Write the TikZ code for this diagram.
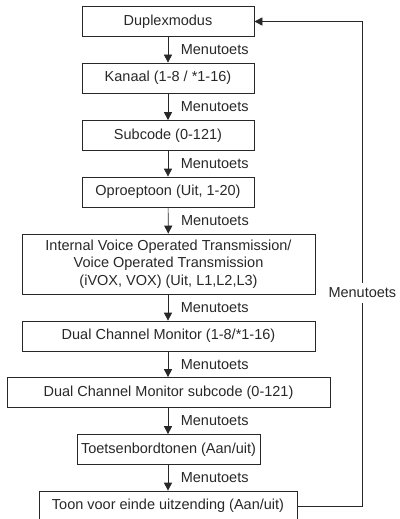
\documentclass[tikz,border=0pt]{standalone}
\usepackage{fontspec}
\setmainfont{Liberation Sans}
\definecolor{lijngrijs}{RGB}{40,40,40}
\usetikzlibrary{arrows.meta, positioning}

\begin{document}
\begin{tikzpicture}[x=1pt, y=-1pt,
					menu/.style={draw=lijngrijs, line width=0.7pt, font=\fontsize{14.5}{17.5}\selectfont, text=lijngrijs, align=center, inner sep=0pt, minimum height=30pt},
					lbl/.style={font=\fontsize{14.5}{17.5}\selectfont, text=lijngrijs, anchor=west, inner sep=0pt, xshift=12.5pt},
					arr/.style={-{Triangle[length=8pt, width=8pt]}, line width=0.7pt, lijngrijs}]
					\useasboundingbox (0,0) rectangle (399,519);
					\node[menu, minimum width=172pt] (dup) at (168,21.5) {Duplexmodus};
					\node[menu, minimum width=172pt] (kan) at (168,78) {Kanaal (1-8 / *1-16)};
					\node[menu, minimum width=172pt] (sub) at (168,135.5) {Subcode (0-121)};
					\node[menu, minimum width=172pt] (opr) at (168,192) {Oproeptoon (Uit, 1-20)};
					\node[menu, minimum width=293pt, minimum height=60pt] (vox) at (168.5,264) {Internal Voice Operated Transmission/\\Voice Operated Transmission\\(iVOX, VOX) (Uit, L1,L2,L3)};
					\node[menu, minimum width=293pt] (dcm) at (168.5,336) {Dual Channel Monitor (1-8/*1-16)};
					\node[menu, minimum width=323pt] (dcms) at (168.5,392.5) {Dual Channel Monitor subcode (0-121)};
					\node[menu, minimum width=183pt] (toets) at (168.5,449.5) {Toetsenbordtonen (Aan/uit)};
					\node[menu, minimum width=258pt] (toon) at (168,506) {Toon voor einde uitzending (Aan/uit)};
					\draw[arr] (dup) -- node[lbl] (m1) {Menutoets} (kan);
					\draw[arr] (kan) -- node[lbl] (m2) {Menutoets} (sub);
					\draw[arr] (sub) -- node[lbl] (m3) {Menutoets} (opr);
					\draw[arr] (opr) -- node[lbl] (m4) {Menutoets} (vox);
					\draw[arr] (vox.south -| opr) -- node[lbl] (m5) {Menutoets} (dcm.north -| opr);
					\draw[arr] (dcm.south -| opr) -- node[lbl] (m6) {Menutoets} (dcms.north -| opr);
					\draw[arr] (dcms.south -| opr) -- node[lbl] (m7) {Menutoets} (toets.north -| opr);
					\draw[arr] (toets.south -| opr) -- node[lbl] (m8) {Menutoets} (toon);
					% terug naar het begin
					\draw[arr] (toon.east) -- ++(65,0) coordinate (hoek) |- (dup.east);
					\node[fill=white, inner xsep=0pt, inner ysep=5pt, font=\fontsize{14.5}{17.5}\selectfont, text=lijngrijs] (mr) at (hoek |- 0,293) {Menutoets};
				\end{tikzpicture}
\end{document}
